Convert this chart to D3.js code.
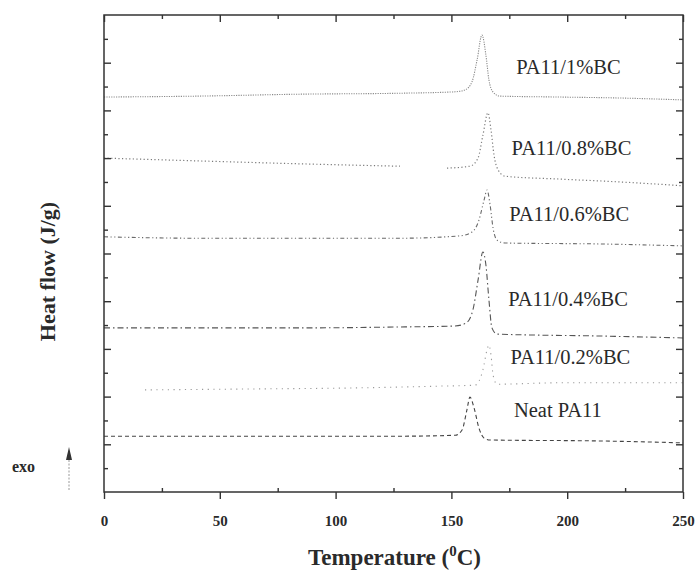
<!DOCTYPE html>
<html>
<head>
<meta charset="utf-8">
<script src="https://cdn.jsdelivr.net/npm/d3@7"></script>
<style>
  html, body { margin: 0; padding: 0; background: #fff; }
  svg { display: block; }
  text { font-family: "Liberation Serif", "Times New Roman", serif; fill: #2a2a2a; }
</style>
</head>
<body>
<svg id="chart" width="699" height="576"></svg>
<script>
// DSC cooling traces: temperature (°C) vs stacked heat flow (arbitrary offset units)
const sampleNames = ["PA11/1%BC", "PA11/0.8%BC", "PA11/0.6%BC", "PA11/0.4%BC", "PA11/0.2%BC", "Neat PA11"];

const trace1 = [[0,8.28],[41.5,8.30],[84.6,8.34],[127.8,8.36],[151.6,8.39],[155.9,8.43],[158.9,8.60],[161.1,9.06],[163.2,9.58],[164.9,9.16],[166.2,8.64],[167.9,8.39],[170.9,8.30],[196.7,8.28],[222.6,8.26],[250,8.22]];
const trace08 = [[0,7.00],[41.5,6.94],[84.6,6.88],[127.8,6.83],null,[148.1,6.79],[158.0,6.83],[161.5,7.00],[163.6,7.48],[165.8,7.95],[167.1,7.59],[168.4,7.06],[170.2,6.75],[173.2,6.62],[196.9,6.56],[222.8,6.50],[250,6.42]];
const trace06 = [[0,5.35],[41.5,5.32],[84.6,5.32],[127.8,5.32],[153.7,5.37],[158.9,5.45],[161.9,5.70],[164.1,6.12],[165.4,6.33],[166.7,6.02],[168.0,5.53],[169.7,5.28],[173.1,5.22],[214.2,5.20],[250,5.16]];
const trace04 = [[0,3.44],[41.5,3.44],[84.6,3.44],[127.8,3.46],[151.6,3.48],[156.3,3.54],[159.3,3.82],[161.5,4.44],[163.6,5.03],[164.9,4.76],[166.2,4.03],[167.5,3.44],[169.7,3.31],[214.2,3.27],[250,3.23]];
const trace02 = [[17.7,2.14],[63.0,2.16],[106.2,2.18],[145.1,2.22],[160.2,2.24],[163.6,2.56],[165.4,2.98],[166.2,3.08],[167.1,2.87],[168.0,2.45],[169.7,2.26],[196.9,2.29],[250,2.29]];
const traceNeat = [[0,1.17],[41.5,1.17],[84.6,1.17],[127.8,1.17],[151.6,1.19],[154.6,1.30],[156.7,1.72],[158.0,1.99],[159.8,1.76],[161.9,1.34],[164.1,1.13],[166.7,1.09],[214.2,1.07],[250,1.03]];

const traces = [trace1, trace08, trace06, trace04, trace02, traceNeat];

// label anchor heights (same offset units as the traces)
const labelLevels = [8.77, 7.07, 5.68, 3.90, 2.69, 1.57];

const xMajorTicks = [0, 50, 100, 150, 200, 250];
const xMinorTicks = [25, 75, 125, 175, 225];
const yMajorTicks = [1, 2, 3, 4, 5, 6, 7, 8, 9];
const yMinorTicks = [0.5, 1.5, 2.5, 3.5, 4.5, 5.5, 6.5, 7.5, 8.5, 9.5];

const svg = d3.select("#chart");
const margin = { left: 104, right: 16, top: 15, bottom: 84 };
const W = 699, H = 576;

const x = d3.scaleLinear().domain([0, 250]).range([margin.left, W - margin.right]);
const y = d3.scaleLinear().domain([0, 10]).range([H - margin.bottom, margin.top]);

const styles = [
  { dash: "1.2,1.2", color: "#8a8a8a", width: 1.1 },
  { dash: "1.2,2.4", color: "#7a7a7a", width: 1.2 },
  { dash: "4,2.5,1.2,2.5,1.2,2.5", color: "#6a6a6a", width: 1.1 },
  { dash: "6,3,1.5,3", color: "#555", width: 1.1 },
  { dash: "1.2,4.5", color: "#9a9a9a", width: 1.1 },
  { dash: "4,3", color: "#444", width: 1.1 }
];

const line = d3.line()
  .defined(d => d !== null)
  .x(d => x(d[0]))
  .y(d => y(d[1]))
  .curve(d3.curveMonotoneX);

const plot = svg.append("g");
traces.forEach((tr, i) => {
  plot.append("path")
    .datum(tr)
    .attr("d", line)
    .attr("fill", "none")
    .attr("stroke", styles[i].color)
    .attr("stroke-width", styles[i].width)
    .attr("stroke-dasharray", styles[i].dash);
});

// sample labels
const labelX = [178, 176, 175, 174.5, 175.5, 177];
sampleNames.forEach((name, i) => {
  svg.append("text")
    .attr("x", x(labelX[i]))
    .attr("y", y(labelLevels[i]))
    .attr("font-size", 20.5)
    .attr("fill", "#333")
    .text(name);
});

// frame
const frameColor = "#333";
svg.append("rect")
  .attr("x", x(0)).attr("y", y(10))
  .attr("width", x(250) - x(0)).attr("height", y(0) - y(10))
  .attr("fill", "none").attr("stroke", frameColor).attr("stroke-width", 1.5);

function styleAxis(g) {
  g.select(".domain").remove();
  g.selectAll(".tick line").attr("stroke", frameColor).attr("stroke-width", 1.4);
}

// bottom axis: labelled major ticks pointing outward, minor ticks inward
svg.append("g")
  .attr("transform", `translate(0,${y(0)})`)
  .call(d3.axisBottom(x).tickValues(xMajorTicks).tickSize(7).tickPadding(16).tickFormat(d3.format("d")))
  .call(styleAxis)
  .call(g => g.selectAll(".tick text")
    .attr("font-family", "'Liberation Serif', serif")
    .attr("font-size", 15).attr("font-weight", "bold").attr("fill", "#222"));
svg.append("g")
  .attr("transform", `translate(0,${y(0)})`)
  .call(d3.axisBottom(x).tickValues(xMinorTicks).tickSize(-4).tickFormat(""))
  .call(styleAxis);

// top axis: inward ticks only
svg.append("g")
  .attr("transform", `translate(0,${y(10)})`)
  .call(d3.axisTop(x).tickValues(xMajorTicks).tickSize(-7).tickFormat(""))
  .call(styleAxis);
svg.append("g")
  .attr("transform", `translate(0,${y(10)})`)
  .call(d3.axisTop(x).tickValues(xMinorTicks).tickSize(-4).tickFormat(""))
  .call(styleAxis);

// left and right axes: inward ticks, no numbers
[[d3.axisLeft, x(0)], [d3.axisRight, x(250)]].forEach(([ax, pos]) => {
  svg.append("g")
    .attr("transform", `translate(${pos},0)`)
    .call(ax(y).tickValues(yMajorTicks).tickSize(-7).tickFormat(""))
    .call(styleAxis);
  svg.append("g")
    .attr("transform", `translate(${pos},0)`)
    .call(ax(y).tickValues(yMinorTicks).tickSize(-4).tickFormat(""))
    .call(styleAxis);
});

// axis titles
const xTitle = svg.append("text")
  .attr("x", (x(0) + x(250)) / 2 + 1)
  .attr("y", 565)
  .attr("text-anchor", "middle")
  .attr("font-size", 23)
  .attr("font-weight", "bold")
  .attr("fill", "#222");
xTitle.append("tspan").text("Temperature (");
xTitle.append("tspan").attr("font-size", 15).attr("dy", -9).text("0");
xTitle.append("tspan").attr("dy", 9).text("C)");

svg.append("text")
  .attr("transform", `translate(55,${(y(0) + y(10)) / 2 + 18}) rotate(-90)`)
  .attr("text-anchor", "middle")
  .attr("font-size", 22)
  .attr("font-weight", "bold")
  .attr("fill", "#222")
  .text("Heat flow (J/g)");

// exotherm direction marker
svg.append("text")
  .attr("x", 12).attr("y", 472)
  .attr("font-size", 16)
  .attr("font-weight", "bold")
  .attr("fill", "#333")
  .text("exo");
svg.append("line")
  .attr("x1", 69).attr("x2", 69)
  .attr("y1", 490).attr("y2", 458)
  .attr("stroke", "#999").attr("stroke-width", 1)
  .attr("stroke-dasharray", "2,1.5");
svg.append("path")
  .attr("d", "M69,447 L72,460 L66,460 Z")
  .attr("fill", "#333");
</script>
</body>
</html>
